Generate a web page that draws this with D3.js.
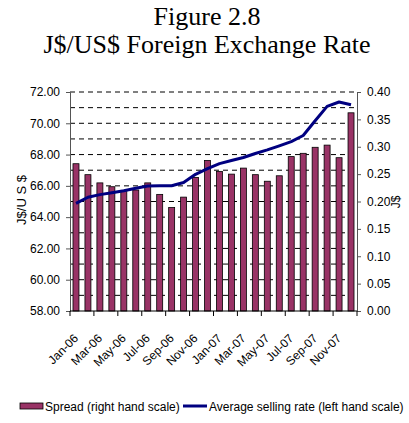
<!DOCTYPE html>
<html>
<head>
<meta charset="utf-8">
<script src="https://cdn.jsdelivr.net/npm/d3@7"></script>
<style>
  body { margin: 0; background: #fff; }
  text { font-family: "Liberation Sans", Arial, sans-serif; fill: #000; }
  .title { font-family: "Liberation Serif", "Times New Roman", serif; font-size: 26px; }
</style>
</head>
<body>
<div id="chart"></div>
<script>
// months on the category axis (label shown on every second month)
var months = ["Jan-06","Feb-06","Mar-06","Apr-06","May-06","Jun-06","Jul-06","Aug-06",
              "Sep-06","Oct-06","Nov-06","Dec-06","Jan-07","Feb-07","Mar-07","Apr-07",
              "May-07","Jun-07","Jul-07","Aug-07","Sep-07","Oct-07","Nov-07","Dec-07"];

// spread, J$ (right hand scale)
var spread = [0.269, 0.249, 0.234, 0.227, 0.220, 0.221, 0.234, 0.213, 0.189, 0.208, 0.244, 0.275,
              0.255, 0.250, 0.261, 0.249, 0.237, 0.247, 0.282, 0.288, 0.299, 0.303, 0.280, 0.362];

// average selling rate, J$/US$ (left hand scale)
var avgRate = [64.88, 65.27, 65.44, 65.56, 65.69, 65.85, 65.99, 66.01, 66.01, 66.21, 66.74, 67.10,
               67.42, 67.62, 67.81, 68.07, 68.30, 68.56, 68.83, 69.22, 70.16, 71.08, 71.36, 71.19];

var leftTicks = [58, 60, 62, 64, 66, 68, 70, 72];
var rightTicks = [0, 0.05, 0.10, 0.15, 0.20, 0.25, 0.30, 0.35, 0.40];

var W = 409, H = 423;
var margin = {top: 92, right: 52, bottom: 112, left: 70};

var svg = d3.select("#chart").append("svg")
    .attr("width", W)
    .attr("height", H);

var x = d3.scaleBand()
    .domain(months)
    .range([margin.left, W - margin.right])
    .paddingInner(0.5)
    .paddingOuter(0.25);

// category edges, for the bottom tick marks
var xEdge = d3.scaleLinear()
    .domain([0, months.length])
    .range([margin.left, W - margin.right]);

var yL = d3.scaleLinear().domain([58, 72]).range([H - margin.bottom, margin.top]);
var yR = d3.scaleLinear().domain([0, 0.40]).range([H - margin.bottom, margin.top]);

// title
svg.append("text").attr("class", "title")
   .attr("x", 207).attr("y", 25)
   .attr("text-anchor", "middle")
   .text("Figure 2.8");
svg.append("text").attr("class", "title")
   .attr("x", 207).attr("y", 53)
   .attr("text-anchor", "middle")
   .text("J$/US$ Foreign Exchange Rate");

// dashed gridlines every 1.00 on the left scale
svg.append("g")
   .selectAll("line")
   .data(yL.ticks(14).filter(function(d) { return d > 58; }))
   .enter().append("line")
   .attr("x1", margin.left).attr("x2", W - margin.right)
   .attr("y1", function(d) { return yL(d); })
   .attr("y2", function(d) { return yL(d); })
   .attr("stroke", "#000")
   .attr("stroke-width", 1)
   .attr("stroke-dasharray", "5,4");

// bars (spread)
svg.append("g")
   .selectAll("rect")
   .data(spread)
   .enter().append("rect")
   .attr("x", function(d, i) { return x(months[i]); })
   .attr("width", x.bandwidth())
   .attr("y", function(d) { return yR(d); })
   .attr("height", function(d) { return yR(0) - yR(d); })
   .attr("fill", "#993366")
   .attr("stroke", "#000")
   .attr("stroke-width", 0.8);

// line (average selling rate)
var line = d3.line()
    .x(function(d, i) { return x(months[i]) + x.bandwidth() / 2; })
    .y(function(d) { return yL(d); });

svg.append("path")
   .datum(avgRate)
   .attr("d", line)
   .attr("fill", "none")
   .attr("stroke", "#000080")
   .attr("stroke-width", 3)
   .attr("stroke-linejoin", "round");

// left axis
var leftAxis = svg.append("g")
   .attr("transform", "translate(" + margin.left + ",0)")
   .call(d3.axisLeft(yL).tickValues(leftTicks).tickFormat(d3.format(".2f"))
         .tickSizeOuter(0).tickSize(4).tickPadding(6));

// right axis
var rightAxis = svg.append("g")
   .attr("transform", "translate(" + (W - margin.right) + ",0)")
   .call(d3.axisRight(yR).tickValues(rightTicks).tickFormat(d3.format(".2f"))
         .tickSizeOuter(0).tickSize(4).tickPadding(6));

[leftAxis, rightAxis].forEach(function(a) {
  a.selectAll("text").style("font-size", "12px").style("font-family", "\"Liberation Sans\", Arial, sans-serif");
  a.selectAll("line, path").attr("stroke", "#555");
});

// bottom axis: line plus ticks on every second category edge
var bottom = svg.append("g");
bottom.append("line")
   .attr("x1", margin.left).attr("x2", W - margin.right)
   .attr("y1", yL(58)).attr("y2", yL(58))
   .attr("stroke", "#000");
bottom.selectAll(".tk")
   .data(d3.range(0, months.length + 1, 2))
   .enter().append("line")
   .attr("class", "tk")
   .attr("x1", function(d) { return xEdge(d); })
   .attr("x2", function(d) { return xEdge(d); })
   .attr("y1", yL(58)).attr("y2", yL(58) + 5)
   .attr("stroke", "#000");

bottom.selectAll(".lbl")
   .data(months.filter(function(m, i) { return i % 2 === 0; }))
   .enter().append("text")
   .attr("class", "lbl")
   .attr("text-anchor", "end")
   .style("font-size", "12px")
   .attr("transform", function(d) {
     var px = x(d) + x.bandwidth() / 2 + 3, py = yL(58) + 28;
     return "translate(" + px + "," + py + ") rotate(-45)";
   })
   .text(function(d) { return d; });

// axis titles
svg.append("text")
   .attr("transform", "translate(26,200) rotate(-90)")
   .attr("text-anchor", "middle")
   .style("font-size", "13px")
   .text("J$/U S $");

svg.append("text")
   .attr("transform", "translate(400,202) rotate(-90)")
   .attr("text-anchor", "middle")
   .style("font-size", "12px")
   .text("J$");

// legend
var legend = svg.append("g");
legend.append("rect")
   .attr("x", 20).attr("y", 403).attr("width", 23).attr("height", 6)
   .attr("fill", "#993366").attr("stroke", "#000").attr("stroke-width", 0.8);
legend.append("text")
   .attr("x", 45).attr("y", 411)
   .style("font-size", "12px")
   .text("Spread (right hand scale)");
legend.append("line")
   .attr("x1", 183).attr("x2", 207).attr("y1", 406).attr("y2", 406)
   .attr("stroke", "#000080").attr("stroke-width", 3);
legend.append("text")
   .attr("x", 209).attr("y", 411)
   .style("font-size", "12px")
   .text("Average selling rate (left hand scale)");
</script>
</body>
</html>
